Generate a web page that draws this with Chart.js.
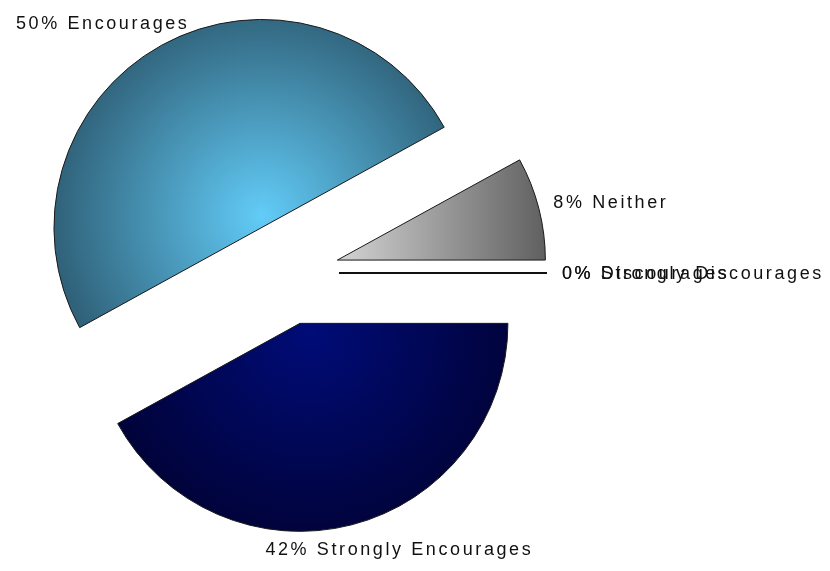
<!DOCTYPE html>
<html>
<head>
<meta charset="utf-8">
<script src="https://cdn.jsdelivr.net/npm/chart.js@4/dist/chart.umd.min.js"></script>
<style>
    html, body { margin: 0; padding: 0; background: #fff; }
    canvas { display: block; }
</style>
</head>
<body>
<canvas id="graficoPizza" width="830" height="571"></canvas>
<script>
// Pie chart - exploded slices

const categorias = [
    "Strongly Encourages",
    "Encourages",
    "Neither",
    "Discourages",
    "Strongly Discourages",
];
const percentuais = [42, 50, 8, 0, 0];

const explode = 52; // how far each slice is pulled out
const raio = 208;

function fatiaFill(context) {
    const chart = context.chart;
    const area = chart.chartArea;
    if (!area) return "#888";
    const cx = (area.left + area.right) / 2;
    const cy = (area.top + area.bottom) / 2;
    const c = chart.ctx;
    let g;
    switch (context.dataIndex) {
        case 0:
            g = c.createRadialGradient(cx + 10, cy + 8, 0, cx + 10, cy + 8, raio);
            g.addColorStop(0, "#000c78");
            g.addColorStop(1, "#00033a");
            return g;
        case 1:
            g = c.createRadialGradient(cx, cy - 12, 0, cx, cy - 12, raio);
            g.addColorStop(0, "#62ccf8");
            g.addColorStop(1, "#30627a");
            return g;
        case 2:
            g = c.createLinearGradient(cx, 0, cx + raio, 0);
            g.addColorStop(0, "#d4d4d4");
            g.addColorStop(1, "#606060");
            return g;
    }
    return "#999";
}

// draws each slice moved out along its middle angle, plus the labels
const pizzaExplodida = {
    id: "pizzaExplodida",
    beforeDatasetDraw(chart, args) {
        const ctx = chart.ctx;
        args.meta.data.forEach((arc) => {
            const meio = (arc.startAngle + arc.endAngle) / 2;
            ctx.save();
            ctx.translate(Math.cos(meio) * explode, Math.sin(meio) * explode);
            if (arc.circumference > 0) {
                arc.draw(ctx);
            } else {
                // empty slice: only its edge line
                ctx.beginPath();
                ctx.moveTo(arc.x, arc.y);
                ctx.lineTo(
                    arc.x + Math.cos(arc.startAngle) * arc.outerRadius,
                    arc.y + Math.sin(arc.startAngle) * arc.outerRadius
                );
                ctx.strokeStyle = "#000";
                ctx.lineWidth = 1.5;
                ctx.stroke();
            }
            ctx.restore();
        });
        return false;
    },
    afterDraw(chart) {
        const ctx = chart.ctx;
        const meta = chart.getDatasetMeta(0);
        ctx.save();
        ctx.font = "18px 'Liberation Sans', Arial, sans-serif";
        ctx.letterSpacing = "2.6px";
        ctx.fillStyle = "#111";
        ctx.textBaseline = "middle";
        ctx.textAlign = "left";
        meta.data.forEach((arc, i) => {
            const meio = (arc.startAngle + arc.endAngle) / 2;
            const cos = Math.cos(meio);
            const sin = Math.sin(meio);
            const dist = explode + arc.outerRadius + 8;
            const ax = arc.x + cos * dist;
            const ay = arc.y + sin * dist;
            const texto = percentuais[i] + "% " + categorias[i];
            const w = ctx.measureText(texto).width;
            const fx = Math.max(0, 0.5 - 0.66 * cos);
            ctx.fillText(texto, ax - fx * w + 7 * Math.max(0, cos), ay + 17 * sin + 1);
        });
        ctx.restore();
    },
};

const dataPizza = {
    labels: categorias,
    datasets: [
        {
            data: percentuais,
            backgroundColor: fatiaFill,
            borderColor: "#1a1a1a",
            borderWidth: 1,
        },
    ],
};

const configPizza = {
    type: "pie",
    data: dataPizza,
    options: {
        responsive: false,
        animation: false,
        rotation: 90,
        radius: raio,
        layout: { padding: { left: 0, right: 256, top: 0, bottom: 25 } },
        plugins: {
            legend: { display: false },
            tooltip: { enabled: false },
        },
    },
    plugins: [pizzaExplodida],
};

var graficoPizza = new Chart(document.getElementById("graficoPizza"), configPizza);
</script>
</body>
</html>
